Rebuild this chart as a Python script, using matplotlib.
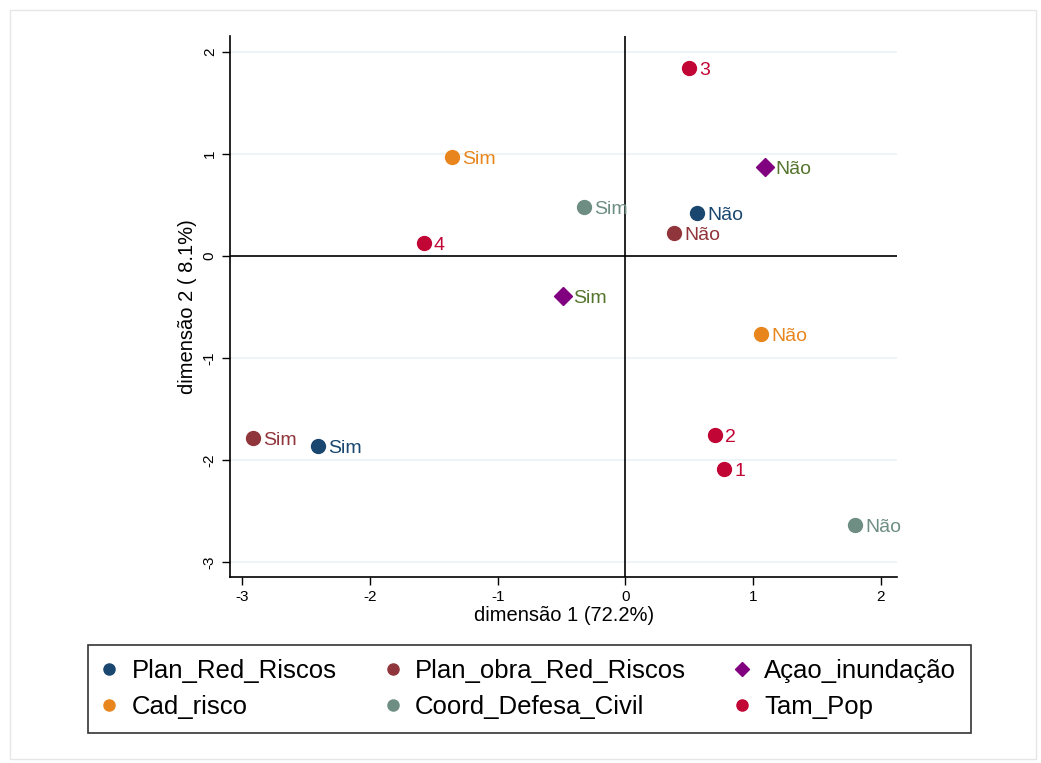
import matplotlib
matplotlib.use("Agg")
import matplotlib.pyplot as plt
from matplotlib.lines import Line2D
from matplotlib.patches import Rectangle

plt.rcParams["font.family"] = ["Liberation Sans", "DejaVu Sans"]
plt.rcParams["axes.unicode_minus"] = False

# MCA coordinates
variables = ["Plan_Red_Riscos", "Plan_obra_Red_Riscos", "Açao_inundação",
             "Cad_risco", "Coord_Defesa_Civil", "Tam_Pop"]
dim1 = {
    "Plan_Red_Riscos": [0.564, -2.406],
    "Plan_obra_Red_Riscos": [0.384, -2.915],
    "Açao_inundação": [1.097, -0.486],
    "Cad_risco": [-1.356, 1.066],
    "Coord_Defesa_Civil": [-0.321, 1.800],
    "Tam_Pop": [0.500, -1.575, 0.705, 0.776],
}
dim2 = {
    "Plan_Red_Riscos": [0.420, -1.863],
    "Plan_obra_Red_Riscos": [0.225, -1.784],
    "Açao_inundação": [0.873, -0.392],
    "Cad_risco": [0.970, -0.765],
    "Coord_Defesa_Civil": [0.480, -2.637],
    "Tam_Pop": [1.843, 0.127, -1.755, -2.088],
}
labels = {
    "Plan_Red_Riscos": ["Não", "Sim"],
    "Plan_obra_Red_Riscos": ["Não", "Sim"],
    "Açao_inundação": ["Não", "Sim"],
    "Cad_risco": ["Sim", "Não"],
    "Coord_Defesa_Civil": ["Sim", "Não"],
    "Tam_Pop": ["3", "4", "2", "1"],
}

colors = {
    "Plan_Red_Riscos": "#1a476f",
    "Plan_obra_Red_Riscos": "#90353b",
    "Açao_inundação": "#800080",
    "Cad_risco": "#e8861d",
    "Coord_Defesa_Civil": "#6e8e84",
    "Tam_Pop": "#c10534",
}
label_colors = dict(colors)
label_colors["Açao_inundação"] = "#55752f"
markers = {v: "o" for v in variables}
markers["Açao_inundação"] = "D"

fig = plt.figure(figsize=(10.41, 7.63), dpi=100)
fig.patches.append(Rectangle((0.01, 0.005), 0.985, 0.982, transform=fig.transFigure,
                             fill=False, edgecolor="#e6e6e6", linewidth=1))
ax = fig.add_axes([0.221, 0.2438, 0.641, 0.709])

for y in [-3, -2, -1, 0, 1, 2]:
    ax.axhline(y, color="#eaf2f3", linewidth=1.2, zorder=0)
ax.axhline(0, color="black", linewidth=1.2, zorder=1)
ax.axvline(0, color="black", linewidth=1.2, zorder=1)

for v in variables:
    ms = 9 if markers[v] == "D" else 10
    ax.plot(dim1[v], dim2[v], linestyle="none", marker=markers[v], markersize=ms,
            color=colors[v], zorder=3)
    for x, y, t in zip(dim1[v], dim2[v], labels[v]):
        ax.annotate(t, (x, y), xytext=(7, -1.5), textcoords="offset points",
                    va="center", ha="left", fontsize=14, color=label_colors[v],
                    zorder=4)

ax.set_xlim(-3.096, 2.13)
ax.set_ylim(-3.147, 2.157)
ax.set_xticks([-3, -2, -1, 0, 1, 2])
ax.set_yticks([-3, -2, -1, 0, 1, 2])
ax.tick_params(axis="both", labelsize=11, length=6, width=1, color="black")
plt.setp(ax.get_yticklabels(), rotation=90, va="center")
for s in ["top", "right"]:
    ax.spines[s].set_visible(False)
for s in ["left", "bottom"]:
    ax.spines[s].set_linewidth(1.2)
ax.set_xlabel("dimensão 1 (72.2%)", fontsize=14.5, labelpad=1)
ax.set_ylabel("dimensão 2 ( 8.1%)", fontsize=14.5, labelpad=4)

handles = [Line2D([], [], linestyle="none", marker=markers[v], color=colors[v],
                  markersize=7.5 if markers[v] == "D" else 8) for v in variables]
# ncol=3 fills column-wise, so reorder to read across rows
order = [0, 3, 1, 4, 2, 5]
leg = fig.legend([handles[i] for i in order], [variables[i] for i in order],
                 ncol=3, loc="upper left", bbox_to_anchor=(0.0845, 0.1547),
                 fontsize=18.5, frameon=True, fancybox=False,
                 edgecolor="black", handletextpad=0.6, handlelength=0.55,
                 borderpad=0.55, labelspacing=0.45, columnspacing=1.9,
                 borderaxespad=0)
leg.get_frame().set_linewidth(1.2)

fig.savefig("out.png", dpi=100)
